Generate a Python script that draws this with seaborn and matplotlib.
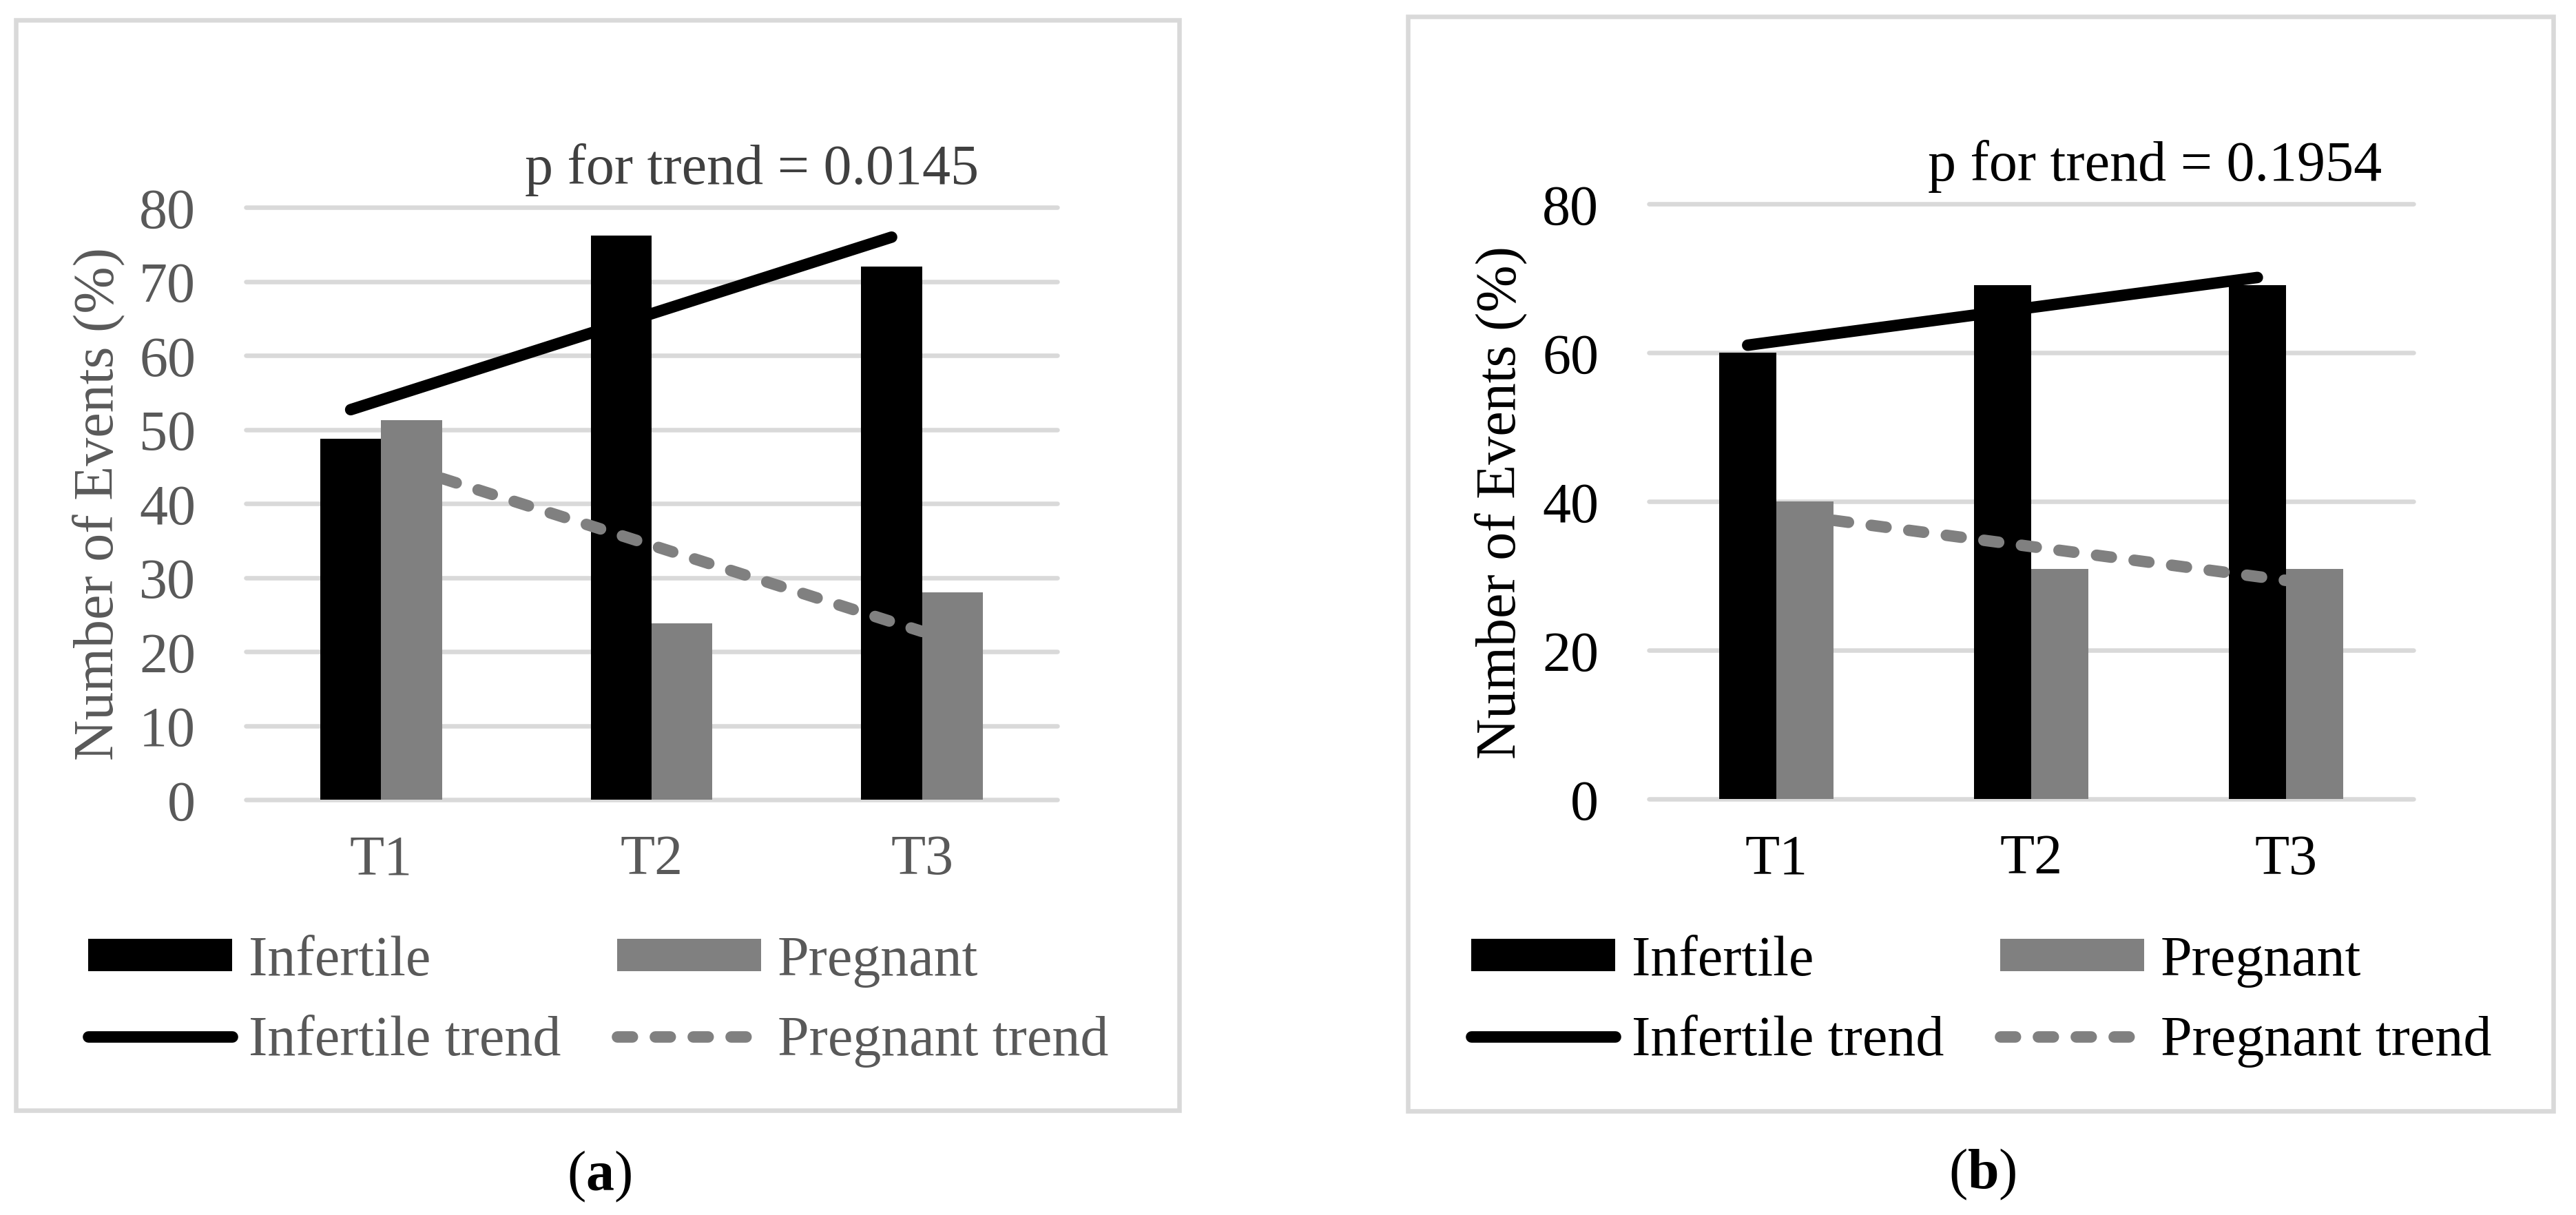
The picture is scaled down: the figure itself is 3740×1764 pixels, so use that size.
import numpy as np
import pandas as pd
import matplotlib
matplotlib.use("Agg")
import matplotlib.pyplot as plt
import seaborn as sns
from matplotlib.patches import Patch, Rectangle
from matplotlib.lines import Line2D

# ---------------- data ----------------
tertiles = ["T1", "T2", "T3"]
groups = ["Infertile", "Pregnant"]

a_infertile = [48.7, 76.2, 72.0]
a_pregnant = [51.3, 23.8, 28.0]
b_infertile = [60.0, 69.1, 69.1]
b_pregnant = [40.0, 30.9, 30.9]

a_yticks = [0, 10, 20, 30, 40, 50, 60, 70, 80]
b_yticks = [0, 20, 40, 60, 80]

a_p_text = "p for trend = 0.0145"
b_p_text = "p for trend = 0.1954"
ylabel_text = "Number of Events (%)"
legend_labels = ["Infertile", "Infertile trend", "Pregnant", "Pregnant trend"]
captions = ["a", "b"]

# ---------------- style ----------------
W, H = 3740, 1765
DPI = 100
BLACK = "#000000"
GRAY = "#808080"
GRID = "#d9d9d9"
FS = 59
LW = 12

sns.set_theme(style="white")
plt.rcParams["font.family"] = ["Liberation Serif", "DejaVu Serif"]
plt.rcParams["mathtext.fontset"] = "custom"
plt.rcParams["mathtext.rm"] = "Liberation Serif"
plt.rcParams["mathtext.bf"] = "Liberation Serif:bold"

fig = plt.figure(figsize=(W / DPI, H / DPI), dpi=DPI)
fig.patch.set_facecolor("white")


def fx(px):
    return px / W


def fy(py):
    return 1 - py / H


def panel(ax_box, inf, preg, yticks, txt_color, p_color, p_text, p_pos,
          ylab_x, frame, leg_pos, caption, cap_pos):
    # outer frame
    x0, y0, x1, y1 = frame
    fig.patches.append(Rectangle((fx(x0), fy(y1)), fx(x1) - fx(x0), fy(y0) - fy(y1),
                                 transform=fig.transFigure, fill=False,
                                 edgecolor=GRID, linewidth=4.7, zorder=0))
    l, b, r, t = ax_box
    ax = fig.add_axes([fx(l), fy(b), fx(r) - fx(l), fy(t) - fy(b)])
    ax.set_facecolor("none")

    df = pd.DataFrame({
        "Tertile": tertiles * 2,
        "Group": [groups[0]] * len(tertiles) + [groups[1]] * len(tertiles),
        "Value": list(inf) + list(preg),
    })
    sns.barplot(data=df, x="Tertile", y="Value", hue="Group", order=tertiles,
                hue_order=groups, palette=[BLACK, GRAY], width=0.45, gap=0,
                saturation=1, linewidth=0, errorbar=None, legend=False, ax=ax)

    # linear trend lines (least-squares fit over the tertile positions)
    pos = np.arange(len(tertiles))
    bw = 0.45 / 2
    c_inf = np.polyfit(pos, inf, 1)
    c_preg = np.polyfit(pos, preg, 1)
    xi = np.array([pos[0] - bw / 2, pos[-1] - bw / 2])
    xp = np.array([pos[0] + bw, pos[-1]])
    ax.plot(xi, np.polyval(c_inf, xi), color=BLACK, lw=LW,
            solid_capstyle="round", zorder=5)
    ax.plot(xp, np.polyval(c_preg, xp), color=GRAY, lw=LW,
            dash_capstyle="round", dashes=(1.3, 2.0), zorder=5)

    ax.set_xlim(-0.5, len(tertiles) - 0.5)
    ax.set_ylim(yticks[0], yticks[-1])
    ax.set_yticks(yticks)
    ax.yaxis.grid(True, color=GRID, linewidth=4.7)
    ax.xaxis.grid(False)
    for gl in ax.get_ygridlines():
        gl.set_clip_on(False)
    ax.set_axisbelow(True)
    for s in ax.spines.values():
        s.set_visible(False)
    ax.tick_params(axis="both", length=0, labelsize=FS, colors=txt_color)
    ax.tick_params(axis="x", pad=36)
    ax.tick_params(axis="y", pad=52.5)
    ax.set_xlabel("")
    ax.set_ylabel(ylabel_text, fontsize=FS, color=txt_color)
    ax.yaxis.set_label_coords(ylab_x, 0.5)

    fig.text(fx(p_pos[0]), fy(p_pos[1]), p_text, fontsize=FS, color=p_color,
             ha="left", va="baseline")

    handles = [
        Patch(facecolor=BLACK, edgecolor="none"),
        Line2D([], [], color=BLACK, lw=LW, solid_capstyle="round"),
        Patch(facecolor=GRAY, edgecolor="none"),
        Line2D([], [], color=GRAY, lw=LW, dash_capstyle="round", dashes=(1.3, 2.0)),
    ]
    ax.legend(handles, legend_labels, ncol=2, loc="upper left",
              bbox_to_anchor=(fx(leg_pos[0]), fy(leg_pos[1])),
              bbox_transform=fig.transFigure, frameon=False, fontsize=FS,
              labelcolor=txt_color, handlelength=2.55, handleheight=0.5,
              handletextpad=0.29, columnspacing=1.0, labelspacing=0.49,
              borderpad=0, borderaxespad=0)

    fig.text(fx(cap_pos[0]), fy(cap_pos[1]), "($\\mathbf{" + caption + "}$)",
             fontsize=FS, color=BLACK, ha="center", va="center")
    return ax


panel((357, 1162, 1535, 302), a_infertile, a_pregnant, a_yticks,
      "#595959", "#404040", a_p_text, (762, 267), -0.1494,
      (23, 30, 1712, 1613), (128, 1359), captions[0], (870, 1708))

panel((2394, 1161, 3504, 297), b_infertile, b_pregnant, b_yticks,
      BLACK, BLACK, b_p_text, (2799, 262), -0.1595,
      (2044, 25, 3707, 1614), (2136, 1359), captions[1], (2878, 1705))

fig.savefig("out.png", dpi=DPI, facecolor="white")
